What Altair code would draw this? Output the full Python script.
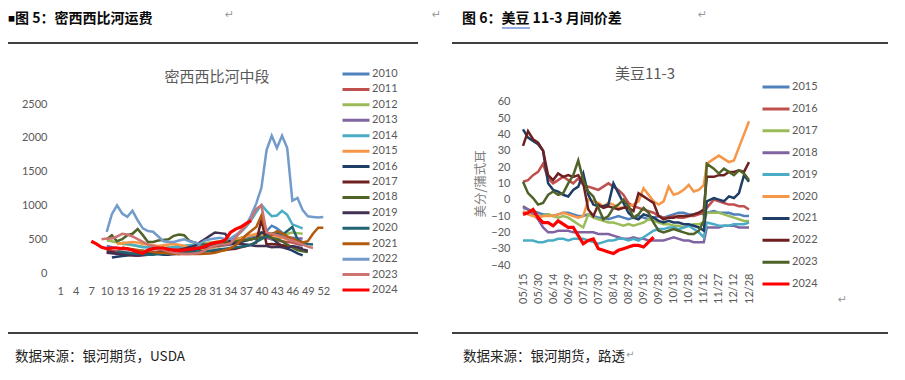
import altair as alt
import pandas as pd

# ---------------- Figure 5: Mississippi River (mid-section) barge freight, weekly ----------------
FREIGHT_YEARS = ["2010", "2011", "2012", "2013", "2014", "2015", "2016", "2017",
                 "2018", "2019", "2020", "2021", "2022", "2023", "2024"]
FREIGHT_COLORS = ["#4F81BD", "#C0504D", "#9BBB59", "#8064A2", "#4BACC6", "#F79646", "#1F3E66",
                  "#6E2020", "#4F6228", "#403152", "#1F6470", "#B35A0E", "#729ACA", "#CD7371", "#FF0000"]
FREIGHT_START_WEEK = [10, 10, 10, 10, 13, 12, 11, 10, 10, 10, 12, 13, 10, 9, 7]

FREIGHT_2010 = [400, 380, 370, 360, 350, 340, 330, 330, 320, 310, 300, 300, 310, 320, 320, 330, 350, 380, 400, 420,
                430, 440, 450, 460, 470, 480, 500, 520, 540, 560, 580, 620, 700, 660, 600, 540, 480, 430, 400]
FREIGHT_2011 = [350, 330, 320, 310, 300, 300, 290, 290, 300, 310, 320, 330, 340, 350, 360, 370, 380, 400, 420, 430,
                440, 450, 460, 470, 480, 500, 520, 540, 560, 560, 540, 520, 500, 480, 470, 460, 450, 430, 420]
FREIGHT_2012 = [480, 470, 450, 430, 420, 410, 400, 390, 380, 380, 370, 370, 380, 390, 400, 400, 410, 420, 430, 440,
                450, 460, 470, 480, 490, 500, 520, 540, 560, 570, 560, 570, 580, 570, 560, 580, 600, 590, 580]
FREIGHT_2013 = [300, 290, 280, 280, 270, 270, 260, 260, 270, 280, 290, 300, 300, 310, 320, 330, 340, 350, 360, 370,
                380, 390, 400, 410, 420, 440, 460, 480, 500, 520, 530, 520, 500, 510, 520, 530, 520, 510, 510]
FREIGHT_2014 = [450, 430, 420, 400, 380, 380, 370, 360, 360, 370, 380, 390, 400, 410, 410, 420, 420, 430, 440, 450,
                470, 500, 540, 600, 680, 780, 900, 1010, 920, 840, 850, 920, 860, 720, 690, 660]
FREIGHT_2015 = [430, 440, 450, 460, 450, 430, 420, 410, 400, 410, 420, 430, 420, 400, 380, 370, 360, 360, 370, 380,
                400, 420, 450, 480, 510, 540, 560, 580, 600, 580, 560, 540, 520, 500, 480, 470, 460]
FREIGHT_2016 = [230, 240, 250, 260, 270, 280, 290, 300, 290, 280, 270, 270, 280, 290, 300, 320, 340, 360, 380, 390,
                400, 410, 420, 430, 440, 460, 480, 500, 520, 600, 580, 520, 450, 400, 360, 330, 290, 260]
FREIGHT_2017 = [320, 310, 290, 280, 270, 260, 260, 270, 280, 290, 300, 300, 290, 280, 280, 290, 300, 300, 310, 320,
                320, 330, 340, 340, 350, 360, 380, 400, 420, 450, 800, 420, 430, 420, 410, 400, 390, 380, 360]
FREIGHT_2018 = [500, 560, 470, 500, 560, 580, 650, 560, 460, 460, 480, 490, 500, 550, 570, 560, 480, 450, 430, 420,
                420, 430, 440, 450, 460, 470, 480, 490, 500, 510, 520, 540, 520, 500, 470, 420, 380, 340, 320, 310]
FREIGHT_2019 = [300, 300, 290, 280, 270, 270, 260, 270, 280, 290, 300, 310, 320, 330, 340, 360, 380, 400, 450, 500,
                550, 600, 590, 580, 450, 440, 430, 420, 410, 400, 400, 400, 380, 390, 380, 360, 400, 380, 350, 330]
FREIGHT_2020 = [320, 310, 300, 290, 280, 280, 270, 270, 280, 280, 290, 290, 300, 300, 310, 310, 320, 320, 330, 340,
                350, 360, 370, 380, 390, 400, 420, 460, 500, 540, 580, 600, 560, 620, 680, 500, 450, 430, 420]
FREIGHT_2021 = [380, 360, 350, 340, 330, 320, 310, 300, 300, 290, 290, 280, 280, 280, 280, 280, 285, 290, 300, 320,
                340, 370, 410, 480, 560, 620, 680, 850, 600, 560, 620, 590, 540, 510, 470, 450, 470, 580, 670, 670]
FREIGHT_2022 = [608, 870, 1000, 880, 830, 920, 780, 660, 620, 610, 540, 470, 460, 460, 480, 500, 470, 450, 430, 480,
                500, 510, 520, 500, 510, 560, 620, 700, 850, 1030, 1260, 1820, 2030, 1850, 2030, 1850, 1070, 1110,
                930, 840, 830, 820, 830]
FREIGHT_2023 = [500, 510, 510, 540, 580, 570, 540, 500, 460, 420, 400, 380, 340, 320, 300, 290, 280, 280, 290, 300,
                330, 380, 400, 420, 420, 440, 520, 620, 700, 800, 950, 1000, 600, 580, 560, 540, 500, 480, 450, 420,
                390, 370]
FREIGHT_2024 = [470, 430, 380, 360, 370, 370, 360, 360, 340, 310, 290, 340, 360, 370, 370, 350, 340, 330, 340, 350,
                360, 370, 390, 430, 450, 460, 490, 600, 650, 680, 730, 775]

WEEK_TICKS = list(range(1, 53, 3))
FREIGHT_TICKS = [0, 500, 1000, 1500, 2000, 2500]

# ---------------- Figure 6: US soybean Nov-Mar spread (cents/bushel) ----------------
SPREAD_YEARS = ["2015", "2016", "2017", "2018", "2019", "2020", "2021", "2022", "2023", "2024"]
SPREAD_COLORS = ["#4F81BD", "#C0504D", "#9BBB59", "#8064A2", "#4BACC6", "#F79646",
                 "#1F3E66", "#6E2020", "#4F6228", "#FF0000"]
# day offset from 05/15
SPREAD_DAYS = [0, 5, 10, 15, 20, 25, 30, 35, 40, 45, 50, 55, 60, 65, 70, 75, 80, 85, 90, 95, 100, 105, 110,
               115, 120, 125, 130, 135, 140, 145, 150, 155, 160, 165, 170, 175, 180, 183, 190, 195, 200, 205,
               210, 215, 220, 225]
SPREAD_2015 = [-5, -6, -7, -8, -9, -9, -10, -9, -8, -8, -9, -10, -10, -9, -10, -11, -11, -12, -11, -10, -11, -12,
               -11, -10, -11, -12, -11, -10, -11, -10, -9, -8, -8, -9, -9, -8, -9, -8, -7, -8, -8, -8, -9, -9, -10, -10]
SPREAD_2016 = [11, 12, 15, 17, 22, 13, 10, 12, 14, 12, 10, 13, 9, 8, 7, 6, 8, 10, 8, 6, 3, -2, -4, -5, -6, -7, -8,
               -10, -11, -11, -10, -11, -11, -10, -10, -9, -8, -5, 0, -1, -2, -3, -3, -4, -4, -6]
SPREAD_2017 = [-4, -6, -8, -10, -10, -9, -10, -11, -10, -11, -13, -15, -17, -9, -11, -12, -13, -14, -14, -15, -16,
               -15, -16, -15, -14, -12, -13, -14, -15, -15, -16, -16, -17, -16, -15, -15, -14, -8, -8, -8, -9, -10,
               -11, -12, -13, -13]
SPREAD_2018 = [-4, -6, -9, -12, -17, -20, -20, -19, -19, -19, -20, -20, -20, -20, -20, -21, -21, -21, -22, -23, -24,
               -24, -23, -24, -24, -25, -25, -25, -25, -24, -23, -24, -25, -25, -26, -26, -26, -17, -17, -17, -16,
               -16, -16, -17, -17, -17]
SPREAD_2019 = [-25, -25, -25, -26, -26, -25, -25, -24, -24, -25, -24, -24, -24, -25, -26, -27, -26, -25, -25, -24,
               -24, -25, -24, -25, -23, -21, -19, -18, -18, -17, -17, -18, -17, -16, -18, -20, -23, -14, -15, -16,
               -16, -16, -15, -15, -15, -14]
SPREAD_2020 = [-7, -9, -10, -11, -10, -10, -10, -9, -8, -9, -10, -11, -10, 0, -1, -2, -4, -2, -3, -5, -5, -4, -3,
               -1, 7, 3, -1, -3, -1, 8, 3, 4, 6, 9, 5, 6, 9, 22, 25, 27, 25, 23, 24, 32, 40, 48]
SPREAD_2021 = [43, 38, 36, 34, 30, 10, 6, 5, 3, 2, 6, 8, 16, 3, -3, -4, -4, -3, 10, 4, -2, -8, -11, -12, -9, -10,
               -11, -13, -14, -13, -14, -14, -15, -15, -16, -17, -19, -1, 1, 0, -1, 2, 1, 4, 15, 11]
SPREAD_2022 = [33, 42, 37, 35, 30, 15, 12, 16, 14, 15, 14, 15, 10, -6, -10, -3, -5, -4, -5, -6, -5, -5, -7, 4, 2,
               0, -2, -10, -12, -11, -11, -10, -10, -10, -9, -8, -6, 14, 14, 15, 15, 17, 17, 18, 17, 23]
SPREAD_2023 = [11, 4, 1, -3, -2, 3, 5, 3, 4, 10, 15, 24, 12, 5, 2, -5, -12, -10, -5, -3, 0, -4, -11, -9, -5, -8,
               -14, -19, -20, -19, -18, -19, -20, -21, -21, -19, -13, 22, 19, 16, 19, 17, 15, 18, 16, 12]
SPREAD_2024 = [-9, -8, -6, -11, -14, -14, -16, -13, -15, -17, -17, -22, -27, -25, -24, -30, -31, -32, -33, -31,
               -30, -29, -28, -28, -29, -26, -23]

DATE_TICKS = [0, 15, 30, 45, 60, 75, 90, 105, 120, 135, 150, 165, 180, 195, 210, 225]
DATE_LABELS = ["05/15", "05/30", "06/14", "06/29", "07/15", "07/30", "08/14", "08/29",
               "09/13", "09/28", "10/13", "10/28", "11/12", "11/27", "12/12", "12/28"]
SPREAD_TICKS = list(range(-40, 61, 10))

# ---------------- texts ----------------
HEAD_LEFT = "图 5：密西西比河运费"
HEAD_RIGHT = "图 6：美豆 11-3 月间价差"
TITLE_LEFT = "密西西比河中段"
TITLE_RIGHT = "美豆11-3"
YTITLE_RIGHT = "美分/蒲式耳"
SOURCE_LEFT = "数据来源：银河期货，USDA"
SOURCE_RIGHT = "数据来源：银河期货，路透"

CJK = "Noto Sans CJK SC"
NUM = "Lato"
GREY = "#595959"

# ---------------- tables ----------------
freight_series = [FREIGHT_2010, FREIGHT_2011, FREIGHT_2012, FREIGHT_2013, FREIGHT_2014, FREIGHT_2015,
                  FREIGHT_2016, FREIGHT_2017, FREIGHT_2018, FREIGHT_2019, FREIGHT_2020, FREIGHT_2021,
                  FREIGHT_2022, FREIGHT_2023, FREIGHT_2024]
rows = []
for yr, start, vals in zip(FREIGHT_YEARS, FREIGHT_START_WEEK, freight_series):
    for i, v in enumerate(vals):
        rows.append({"year": yr, "week": start + i, "value": v})
freight_df = pd.DataFrame(rows)

spread_series = [SPREAD_2015, SPREAD_2016, SPREAD_2017, SPREAD_2018, SPREAD_2019, SPREAD_2020,
                 SPREAD_2021, SPREAD_2022, SPREAD_2023, SPREAD_2024]
rows = []
for yr, vals in zip(SPREAD_YEARS, spread_series):
    for d, v in zip(SPREAD_DAYS, vals):
        rows.append({"year": yr, "day": d, "value": v})
spread_df = pd.DataFrame(rows)

label_expr = "[" + ",".join("'%s'" % s for s in DATE_LABELS) + "][round(datum.value / 15)]"


def axis(**kw):
    base = dict(domain=False, ticks=False, tickSize=0, grid=False, labelPadding=2,
                labelFont=NUM, labelFontSize=11, labelColor=GREY, labelOverlap=False,
                labelFlush=False, title=None)
    base.update(kw)
    return alt.Axis(**base)


def legend(x, y, row_h, row_pad):
    return alt.Legend(title=None, orient="none", legendX=x, legendY=y, direction="vertical",
                      symbolType="stroke", symbolSize=729, symbolStrokeWidth=3, clipHeight=row_h,
                      rowPadding=row_pad, padding=0, labelOffset=1, labelFont=NUM, labelFontSize=11,
                      labelColor=GREY)


thick_red = alt.condition(alt.datum.year == "2024", alt.value(3.2), alt.value(2.5))

left_lines = alt.Chart(freight_df).mark_line().encode(
    x=alt.X("week:Q", scale=alt.Scale(domain=[1, 52], range=[52.3, 315.3], nice=False, zero=False),
            axis=axis(values=WEEK_TICKS, orient="bottom", offset=-89, labelAngle=0)),
    y=alt.Y("value:Q", scale=alt.Scale(domain=[0, 2500], range=[265, 96], nice=False, zero=False),
            axis=axis(values=FREIGHT_TICKS, orient="left", offset=-41, format="d")),
    color=alt.Color("year:N", scale=alt.Scale(domain=FREIGHT_YEARS, range=FREIGHT_COLORS),
                    legend=legend(333, 58.5, 15, 0.43)),
    strokeWidth=thick_red,
)

right_lines = alt.Chart(spread_df).mark_line().encode(
    x=alt.X("day:Q", scale=alt.Scale(domain=[0, 225], range=[515, 741], nice=False, zero=False),
            axis=axis(values=DATE_TICKS, orient="bottom", offset=-101, labelAngle=270,
                      labelExpr=label_expr)),
    y=alt.Y("value:Q", scale=alt.Scale(domain=[-40, 60], range=[257, 93.7], nice=False, zero=False),
            axis=axis(values=SPREAD_TICKS, orient="left", offset=-504, format="d", title=YTITLE_RIGHT,
                      titleFont=CJK, titleFontSize=12.5, titleFontWeight="normal", titleColor="#7f7f7f",
                      titlePadding=3)),
    color=alt.Color("year:N", scale=alt.Scale(domain=SPREAD_YEARS, range=SPREAD_COLORS),
                    legend=legend(753, 68.5, 21, 0.9)),
    strokeWidth=thick_red,
)


def text(t, x, y, size, color, font=CJK, weight="normal", align="left"):
    return alt.Chart(pd.DataFrame({"t": [t]})).mark_text(
        align=align, baseline="middle", font=font, fontSize=size, fontWeight=weight, color=color
    ).encode(x=alt.value(x), y=alt.value(y), text="t:N")


def hline(x1, x2, y, color="#000000", width=1.3):
    return alt.Chart(pd.DataFrame({"k": [0]})).mark_rule(color=color, strokeWidth=width).encode(
        x=alt.value(x1), x2=alt.value(x2), y=alt.value(y))


decor = [
    text("■", 0, 11, 7, "#000000"),
    text(HEAD_LEFT, 7, 11, 14, "#0a0a0a", weight="bold"),
    text(HEAD_RIGHT, 454, 11, 14, "#0a0a0a", weight="bold"),
    hline(494, 522, 20, color="#2F5BD3", width=1),
    text("↵", 217, 7, 11, "#9a9a9a", font="DejaVu Sans"),
    text("↵", 424, 7, 11, "#9a9a9a", font="DejaVu Sans"),
    text("↵", 690, 7, 11, "#9a9a9a", font="DejaVu Sans"),
    text("↵", 830, 292, 11, "#9a9a9a", font="DejaVu Sans"),
    text("↵", 618, 347, 10, "#9a9a9a", font="DejaVu Sans"),
    hline(0, 410, 35),
    hline(444, 880, 35),
    hline(0, 410, 325),
    hline(444, 880, 325),
    text(TITLE_LEFT, 209, 69, 15, GREY, align="center"),
    text(TITLE_RIGHT, 637, 66, 15, GREY, align="center"),
    text(SOURCE_LEFT, 7, 349, 13.5, "#222222"),
    text(SOURCE_RIGHT, 455, 349, 13.5, "#222222"),
]

chart = alt.layer(left_lines, right_lines, *decor).resolve_scale(
    x="independent", y="independent", color="independent"
).resolve_axis(x="independent", y="independent").resolve_legend(color="independent").properties(
    width=889, height=364, autosize=alt.AutoSizeParams(type="none"), padding=0, background="white"
).configure_view(stroke="transparent")

chart.save("out.html", embed_options={"renderer": "svg", "actions": False})
